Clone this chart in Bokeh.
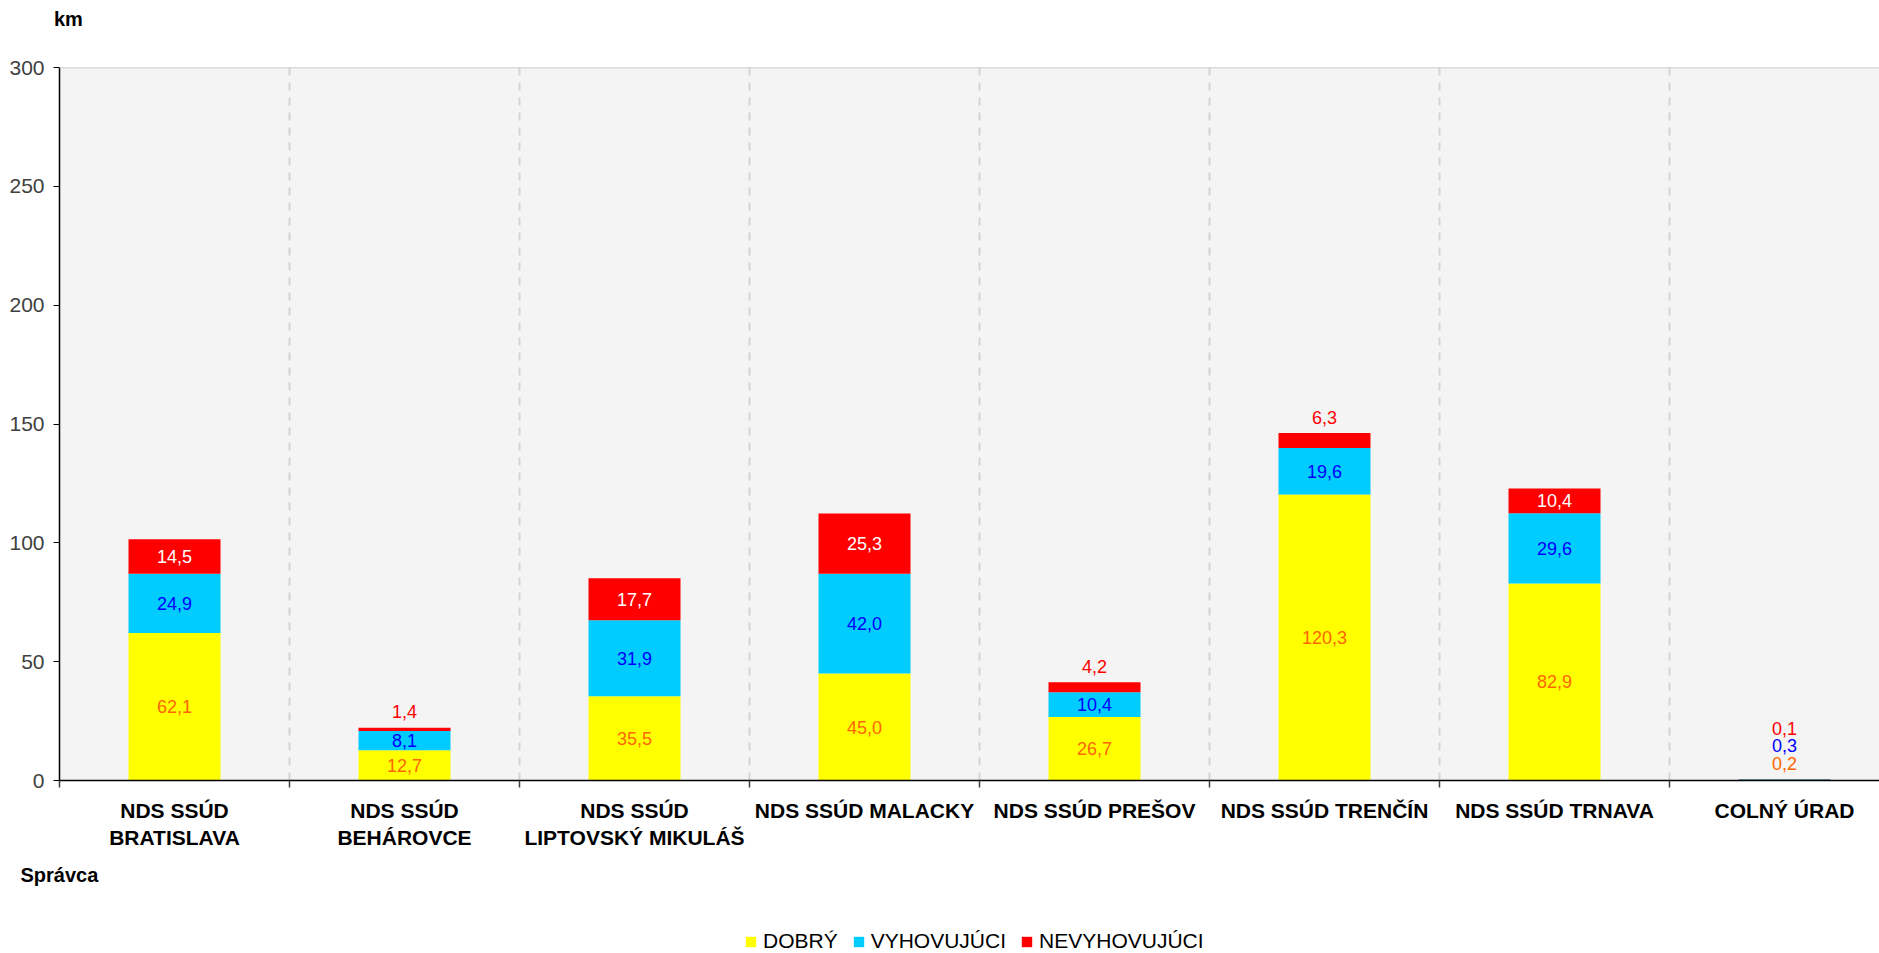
from bokeh.plotting import figure
from bokeh.layouts import column
from bokeh.models import (ColumnDataSource, FixedTicker, Range1d, Legend, LegendItem,
                          Title, Span, Div)
from bokeh.core.properties import value
from bokeh.embed import file_html
from bokeh.resources import INLINE

# ---- data ----
categories = ["NDS SSÚD\nBRATISLAVA", "NDS SSÚD\nBEHÁROVCE", "NDS SSÚD\nLIPTOVSKÝ MIKULÁŠ",
              "NDS SSÚD MALACKY", "NDS SSÚD PREŠOV", "NDS SSÚD TRENČÍN",
              "NDS SSÚD TRNAVA", "COLNÝ ÚRAD"]
dobry = [62.1, 12.7, 35.5, 45.0, 26.7, 120.3, 82.9, 0.2]
vyhovujuci = [24.9, 8.1, 31.9, 42.0, 10.4, 19.6, 29.6, 0.3]
nevyhovujuci = [14.5, 1.4, 17.7, 25.3, 4.2, 6.3, 10.4, 0.1]
series_names = ["DOBRÝ", "VYHOVUJÚCI", "NEVYHOVUJÚCI"]
y_ticks = [0, 50, 100, 150, 200, 250, 300]
y_title = "km"
x_title = "Správca"

# ---- styles ----
FONT = "Liberation Sans"
fill_colors = ["#FFFF00", "#00CCFF", "#FF0000"]
inside_label_colors = ["#FF6600", "#0000FF", "#FFFFFF"]
outside_label_colors = ["#FF6600", "#0000FF", "#FF0000"]

series = [dobry, vyhovujuci, nevyhovujuci]
n = len(categories)
xs = list(range(n))

W = 1879
H_TOP = 40
H_MAIN = 860
H_LEG = 53

# ---- top strip: unit label ----
tp = Div(text=y_title, width=W, height=H_TOP,
         styles={"font-family": FONT, "font-weight": "bold", "font-size": "20px",
                 "line-height": "24px", "color": "black", "padding-left": "54px",
                 "padding-top": "7px", "margin": "0", "box-sizing": "border-box"})

# ---- main chart ----
p = figure(width=W, height=H_MAIN, output_backend="svg", toolbar_location=None,
           x_range=Range1d(-0.5, 7.413), y_range=Range1d(0, 300),
           min_border_left=59, min_border_right=0, min_border_top=67 - H_TOP,
           min_border_bottom=H_MAIN - (780 - H_TOP))
p.background_fill_color = "#F4F4F4"
p.border_fill_color = "white"
p.outline_line_color = None

# stacked bars
renderers = []
sources = []
bottoms = [0.0] * n
for s, vals in enumerate(series):
    tops = [b + v for b, v in zip(bottoms, vals)]
    src = ColumnDataSource(dict(x=xs, bottom=bottoms, top=tops))
    sources.append(src)
    r = p.vbar(x="x", bottom="bottom", top="top", width=0.4, source=src,
               fill_color=fill_colors[s], line_color=None)
    renderers.append(r)
    bottoms = tops
totals = bottoms

# data labels (small segments are labelled above the bar)
lx, ly, lt, lc, lo = [], [], [], [], []
for i in range(n):
    base = 0.0
    k = 0
    for s, vals in enumerate(series):
        v = vals[i]
        txt = f"{v:.1f}".replace(".", ",")
        if v >= 7:
            lx.append(i); ly.append(base + v / 2); lo.append(0)
            lc.append(inside_label_colors[s])
        else:
            lx.append(i); ly.append(totals[i]); lo.append(-(16 + 17.5 * k))
            lc.append(outside_label_colors[s])
            k += 1
        lt.append(txt)
        base += v
lsrc = ColumnDataSource(dict(x=lx, y=ly, text=lt, color=lc, off=lo))
p.text(x="x", y="y", text="text", y_offset="off", text_color="color", source=lsrc,
       text_align="center", text_baseline="middle", text_font=value(FONT),
       text_font_size="18px")

# top border
p.add_layout(Span(location=300, dimension="width", line_color="#C0C0C0", line_width=1.5))

# x axis
xa = p.xaxis[0]
xa.ticker = FixedTicker(ticks=xs, minor_ticks=[i - 0.5 for i in range(n + 1)])
xa.major_label_overrides = {i: c for i, c in enumerate(categories)}
xa.major_tick_out = 0
xa.major_tick_in = 0
xa.minor_tick_out = 7
xa.minor_tick_in = 0
xa.minor_tick_line_color = "#404040"
xa.minor_tick_line_width = 1.5
xa.axis_line_color = "black"
xa.axis_line_width = 1.5
xa.major_label_text_font = FONT
xa.major_label_text_font_size = "21px"
xa.major_label_text_font_style = "bold"
xa.major_label_text_color = "black"
xa.major_label_text_line_height = 1.18
xa.major_label_standoff = 11

# y axis
ya = p.yaxis[0]
ya.ticker = FixedTicker(ticks=y_ticks)
ya.major_tick_out = 6
ya.major_tick_in = 0
ya.minor_tick_line_color = None
ya.axis_line_color = "black"
ya.axis_line_width = 1.5
ya.major_tick_line_color = "black"
ya.major_label_text_font = FONT
ya.major_label_text_font_size = "21px"
ya.major_label_text_color = "#404040"
ya.major_label_standoff = 9

# grids
p.ygrid.grid_line_color = None
p.xgrid.ticker = FixedTicker(ticks=[i + 0.5 for i in range(n - 1)])
p.xgrid.grid_line_color = "#D4D4D4"
p.xgrid.grid_line_width = 2
p.xgrid.grid_line_dash = "8 7"

# x axis title
p.add_layout(Title(text=x_title, align="left", offset=-39, text_font=FONT, text_color="black",
                   text_font_size="20px", text_font_style="bold", standoff=21), "below")

# ---- legend strip under the chart (same data, drawn out of view; only the legend shows) ----
lp = figure(width=W, height=H_LEG, output_backend="svg", toolbar_location=None,
            x_range=Range1d(-0.5, 7.413), y_range=Range1d(1000, 1001),
            x_axis_location=None, y_axis_location=None,
            min_border_left=0, min_border_right=0, min_border_top=0, min_border_bottom=0)
lp.outline_line_color = None
lp.xgrid.visible = False
lp.ygrid.visible = False
leg_renderers = [lp.vbar(x="x", bottom="bottom", top="top", width=0.4, source=src,
                         fill_color=c, line_color=None)
                 for src, c in zip(sources, fill_colors)]
legend = Legend(items=[LegendItem(label=nm, renderers=[r])
                       for nm, r in zip(series_names, leg_renderers)],
                orientation="horizontal", location=(685, 0), border_line_color=None,
                background_fill_alpha=0, label_text_font=FONT, label_text_font_size="21px",
                label_text_color="black", glyph_width=13, glyph_height=13, spacing=14,
                label_standoff=6, padding=0, margin=0)
lp.add_layout(legend, "center")

layout = column(tp, p, lp, spacing=0)
open("out.html", "w").write(file_html(layout, INLINE))
